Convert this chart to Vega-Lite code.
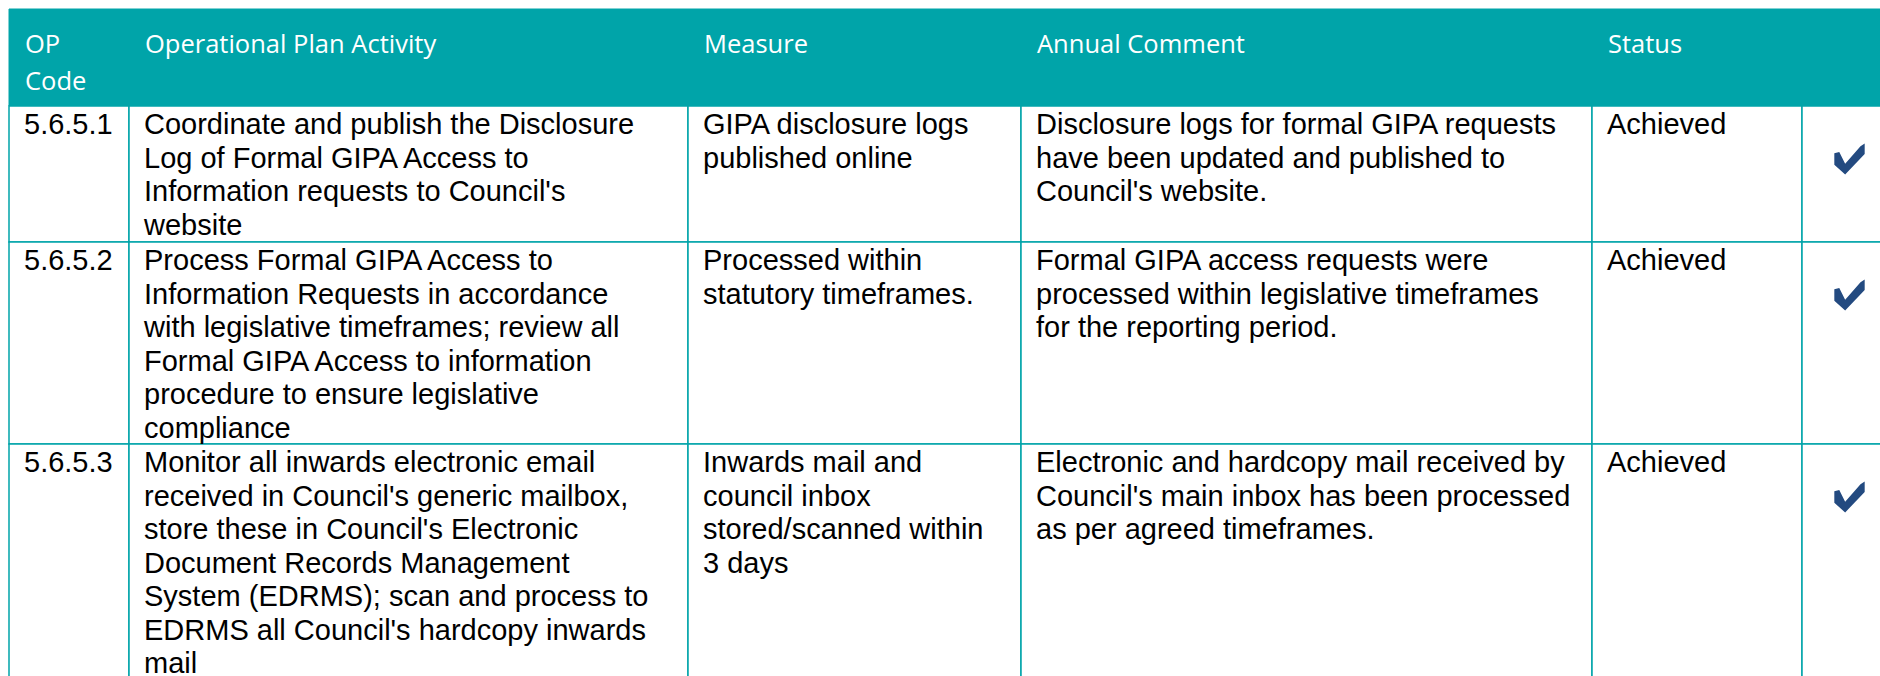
{
  "$schema": "https://vega.github.io/schema/vega-lite/v6.json",
  "width": 1880,
  "height": 676,
  "padding": 0,
  "autosize": {"type": "none"},
  "background": "white",
  "config": {"view": {"stroke": null}},
  "data": {
    "values": [
      {"r": 0, "r2": 1, "c": 0, "c2": 1, "text": "OP\nCode", "check": false},
      {"r": 0, "r2": 1, "c": 1, "c2": 2, "text": "Operational Plan Activity", "check": false},
      {"r": 0, "r2": 1, "c": 2, "c2": 3, "text": "Measure", "check": false},
      {"r": 0, "r2": 1, "c": 3, "c2": 4, "text": "Annual Comment", "check": false},
      {"r": 0, "r2": 1, "c": 4, "c2": 5, "text": "Status", "check": false},
      {"r": 0, "r2": 1, "c": 5, "c2": 6, "text": "", "check": false},

      {"r": 1, "r2": 2, "c": 0, "c2": 1, "text": "5.6.5.1", "check": false},
      {"r": 1, "r2": 2, "c": 1, "c2": 2, "text": "Coordinate and publish the Disclosure\nLog of Formal GIPA Access to\nInformation requests to Council's\nwebsite", "check": false},
      {"r": 1, "r2": 2, "c": 2, "c2": 3, "text": "GIPA disclosure logs\npublished online", "check": false},
      {"r": 1, "r2": 2, "c": 3, "c2": 4, "text": "Disclosure logs for formal GIPA requests\nhave been updated and published to\nCouncil's website.", "check": false},
      {"r": 1, "r2": 2, "c": 4, "c2": 5, "text": "Achieved", "check": false},
      {"r": 1, "r2": 2, "c": 5, "c2": 6, "text": "", "check": true},

      {"r": 2, "r2": 3, "c": 0, "c2": 1, "text": "5.6.5.2", "check": false},
      {"r": 2, "r2": 3, "c": 1, "c2": 2, "text": "Process Formal GIPA Access to\nInformation Requests in accordance\nwith legislative timeframes; review all\nFormal GIPA Access to information\nprocedure to ensure legislative\ncompliance", "check": false},
      {"r": 2, "r2": 3, "c": 2, "c2": 3, "text": "Processed within\nstatutory timeframes.", "check": false},
      {"r": 2, "r2": 3, "c": 3, "c2": 4, "text": "Formal GIPA access requests were\nprocessed within legislative timeframes\nfor the reporting period.", "check": false},
      {"r": 2, "r2": 3, "c": 4, "c2": 5, "text": "Achieved", "check": false},
      {"r": 2, "r2": 3, "c": 5, "c2": 6, "text": "", "check": true},

      {"r": 3, "r2": 4, "c": 0, "c2": 1, "text": "5.6.5.3", "check": false},
      {"r": 3, "r2": 4, "c": 1, "c2": 2, "text": "Monitor all inwards electronic email\nreceived in Council's generic mailbox,\nstore these in Council's Electronic\nDocument Records Management\nSystem (EDRMS); scan and process to\nEDRMS all Council's hardcopy inwards\nmail", "check": false},
      {"r": 3, "r2": 4, "c": 2, "c2": 3, "text": "Inwards mail and\ncouncil inbox\nstored/scanned within\n3 days", "check": false},
      {"r": 3, "r2": 4, "c": 3, "c2": 4, "text": "Electronic and hardcopy mail received by\nCouncil's main inbox has been processed\nas per agreed timeframes.", "check": false},
      {"r": 3, "r2": 4, "c": 4, "c2": 5, "text": "Achieved", "check": false},
      {"r": 3, "r2": 4, "c": 5, "c2": 6, "text": "", "check": true}
    ]
  },
  "encoding": {
    "x": {"field": "c", "type": "quantitative", "axis": null,
          "scale": {"domain": [0, 1, 2, 3, 4, 5, 6], "range": [9, 129, 688, 1021, 1592, 1802, 1882], "nice": false, "zero": false}},
    "y": {"field": "r", "type": "quantitative", "axis": null,
          "scale": {"domain": [0, 1, 2, 3, 4], "range": [9, 106, 242, 444, 740], "nice": false, "zero": false}}
  },
  "layer": [
    {
      "transform": [{"filter": "datum.r == 0"}],
      "mark": {"type": "rect", "fill": "#00a4a9", "stroke": "#00a4a9", "strokeWidth": 1},
      "encoding": {"x2": {"field": "c2"}, "y2": {"field": "r2"}}
    },
    {
      "transform": [{"filter": "datum.r > 0"}],
      "mark": {"type": "rect", "fill": "white", "stroke": "#00a4a9", "strokeWidth": 1.5},
      "encoding": {"x2": {"field": "c2"}, "y2": {"field": "r2"}}
    },
    {
      "transform": [{"filter": "datum.r == 0"}],
      "mark": {"type": "text", "align": "left", "baseline": "alphabetic", "dx": 16, "dy": 44,
               "font": "Open Sans", "fontSize": 25.5, "fill": "white", "lineBreak": "\n", "lineHeight": 37},
      "encoding": {"text": {"field": "text"}}
    },
    {
      "transform": [{"filter": "datum.r > 0"}],
      "mark": {"type": "text", "align": "left", "baseline": "alphabetic", "dx": 15, "dy": 28,
               "font": "Liberation Sans", "fontSize": 29, "fill": "black", "lineBreak": "\n", "lineHeight": 33.5},
      "encoding": {"text": {"field": "text"}}
    },
    {
      "transform": [{"filter": "datum.check"}],
      "mark": {"type": "point", "filled": true, "fill": "#234a80", "opacity": 1, "strokeWidth": 0, "size": 960,
               "xOffset": 47.5, "yOffset": 53,
               "shape": "M-0.98,-0.37 L-0.66,-0.45 L-0.28,0.31 L0.71,-0.83 L0.98,-1 L0.98,-0.33 L-0.28,1 L-0.98,0.37 Z"}
    }
  ]
}
